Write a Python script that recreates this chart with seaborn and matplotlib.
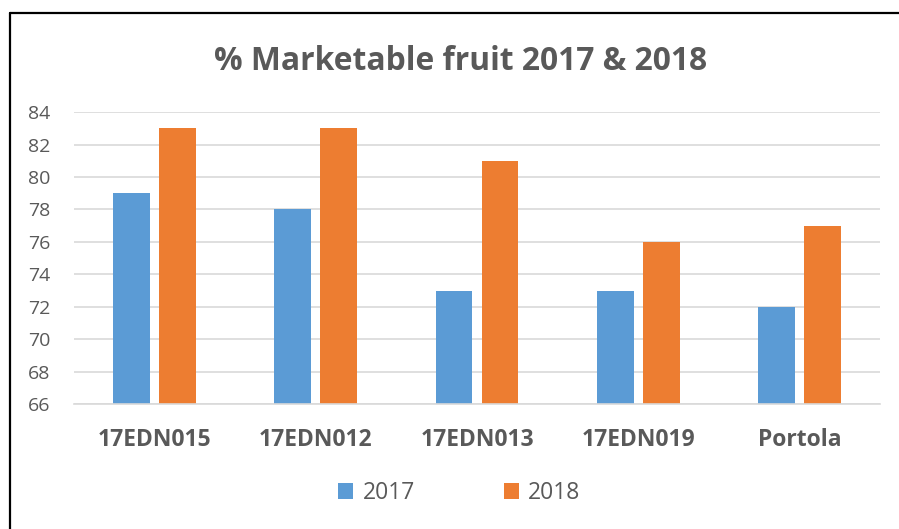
import pandas as pd
import matplotlib.pyplot as plt
import seaborn as sns
from matplotlib.lines import Line2D
from matplotlib.patches import Patch

# Data
varieties = ['17EDN015', '17EDN012', '17EDN013', '17EDN019', 'Portola']
years = ['2017', '2018']
pct_2017 = [79, 78, 73, 73, 72]
pct_2018 = [83, 83, 81, 76, 77]

df = pd.DataFrame({
    'Variety': varieties * 2,
    'Year': [years[0]] * len(varieties) + [years[1]] * len(varieties),
    'Pct': pct_2017 + pct_2018,
})

colors = {'2017': '#5B9BD5', '2018': '#ED7D31'}
text_color = '#595959'

sns.set_style('white')
plt.rcParams['font.family'] = ['Open Sans', 'DejaVu Sans']

fig = plt.figure(figsize=(8.99, 5.29), dpi=100)
ax = fig.add_axes([0.0823, 0.2363, 0.8967, 0.5517])

sns.barplot(data=df, x='Variety', y='Pct', hue='Year', palette=colors,
            width=0.571, gap=0.2, ax=ax, legend=False, saturation=1, linewidth=0)

ax.set_ylim(66, 84)
ax.set_yticks(range(66, 85, 2))
ax.set_xlim(-0.5, 4.5)
ax.yaxis.grid(True, color='#D9D9D9', linewidth=1.2)
ax.set_axisbelow(True)
for s in ['top', 'right', 'left']:
    ax.spines[s].set_visible(False)
ax.spines['bottom'].set_color('#D9D9D9')
ax.spines['bottom'].set_linewidth(1.2)
ax.set_xlabel('')
ax.set_ylabel('')
ax.tick_params(axis='y', length=0, pad=17, labelsize=14, labelcolor=text_color)
ax.tick_params(axis='x', length=0, pad=17, labelsize=16.5, labelcolor=text_color)
for lbl in ax.get_xticklabels():
    lbl.set_fontweight('bold')

# Title
fig.text(0.512, 1 - 70 / 529, '% Marketable fruit 2017 & 2018', ha='center',
         va='baseline', fontsize=22.9, fontweight='bold', color=text_color)

# Legend
handles = [Patch(facecolor=colors[y], edgecolor='none') for y in years]
fig.legend(handles, years, loc='center', bbox_to_anchor=(0.511, 0.068), ncol=2,
           frameon=False, fontsize=16.5, labelcolor=text_color,
           handlelength=0.65, handleheight=0.65, handletextpad=0.4,
           columnspacing=3.9)

# Chart border (left and top edges visible)
fig.add_artist(Line2D([10 / 899, 10 / 899], [0, 1 - 13 / 529], color='black', linewidth=1.6))
fig.add_artist(Line2D([10 / 899, 1], [1 - 13 / 529, 1 - 13 / 529], color='black', linewidth=1.6))

fig.savefig('out.png', dpi=100)
